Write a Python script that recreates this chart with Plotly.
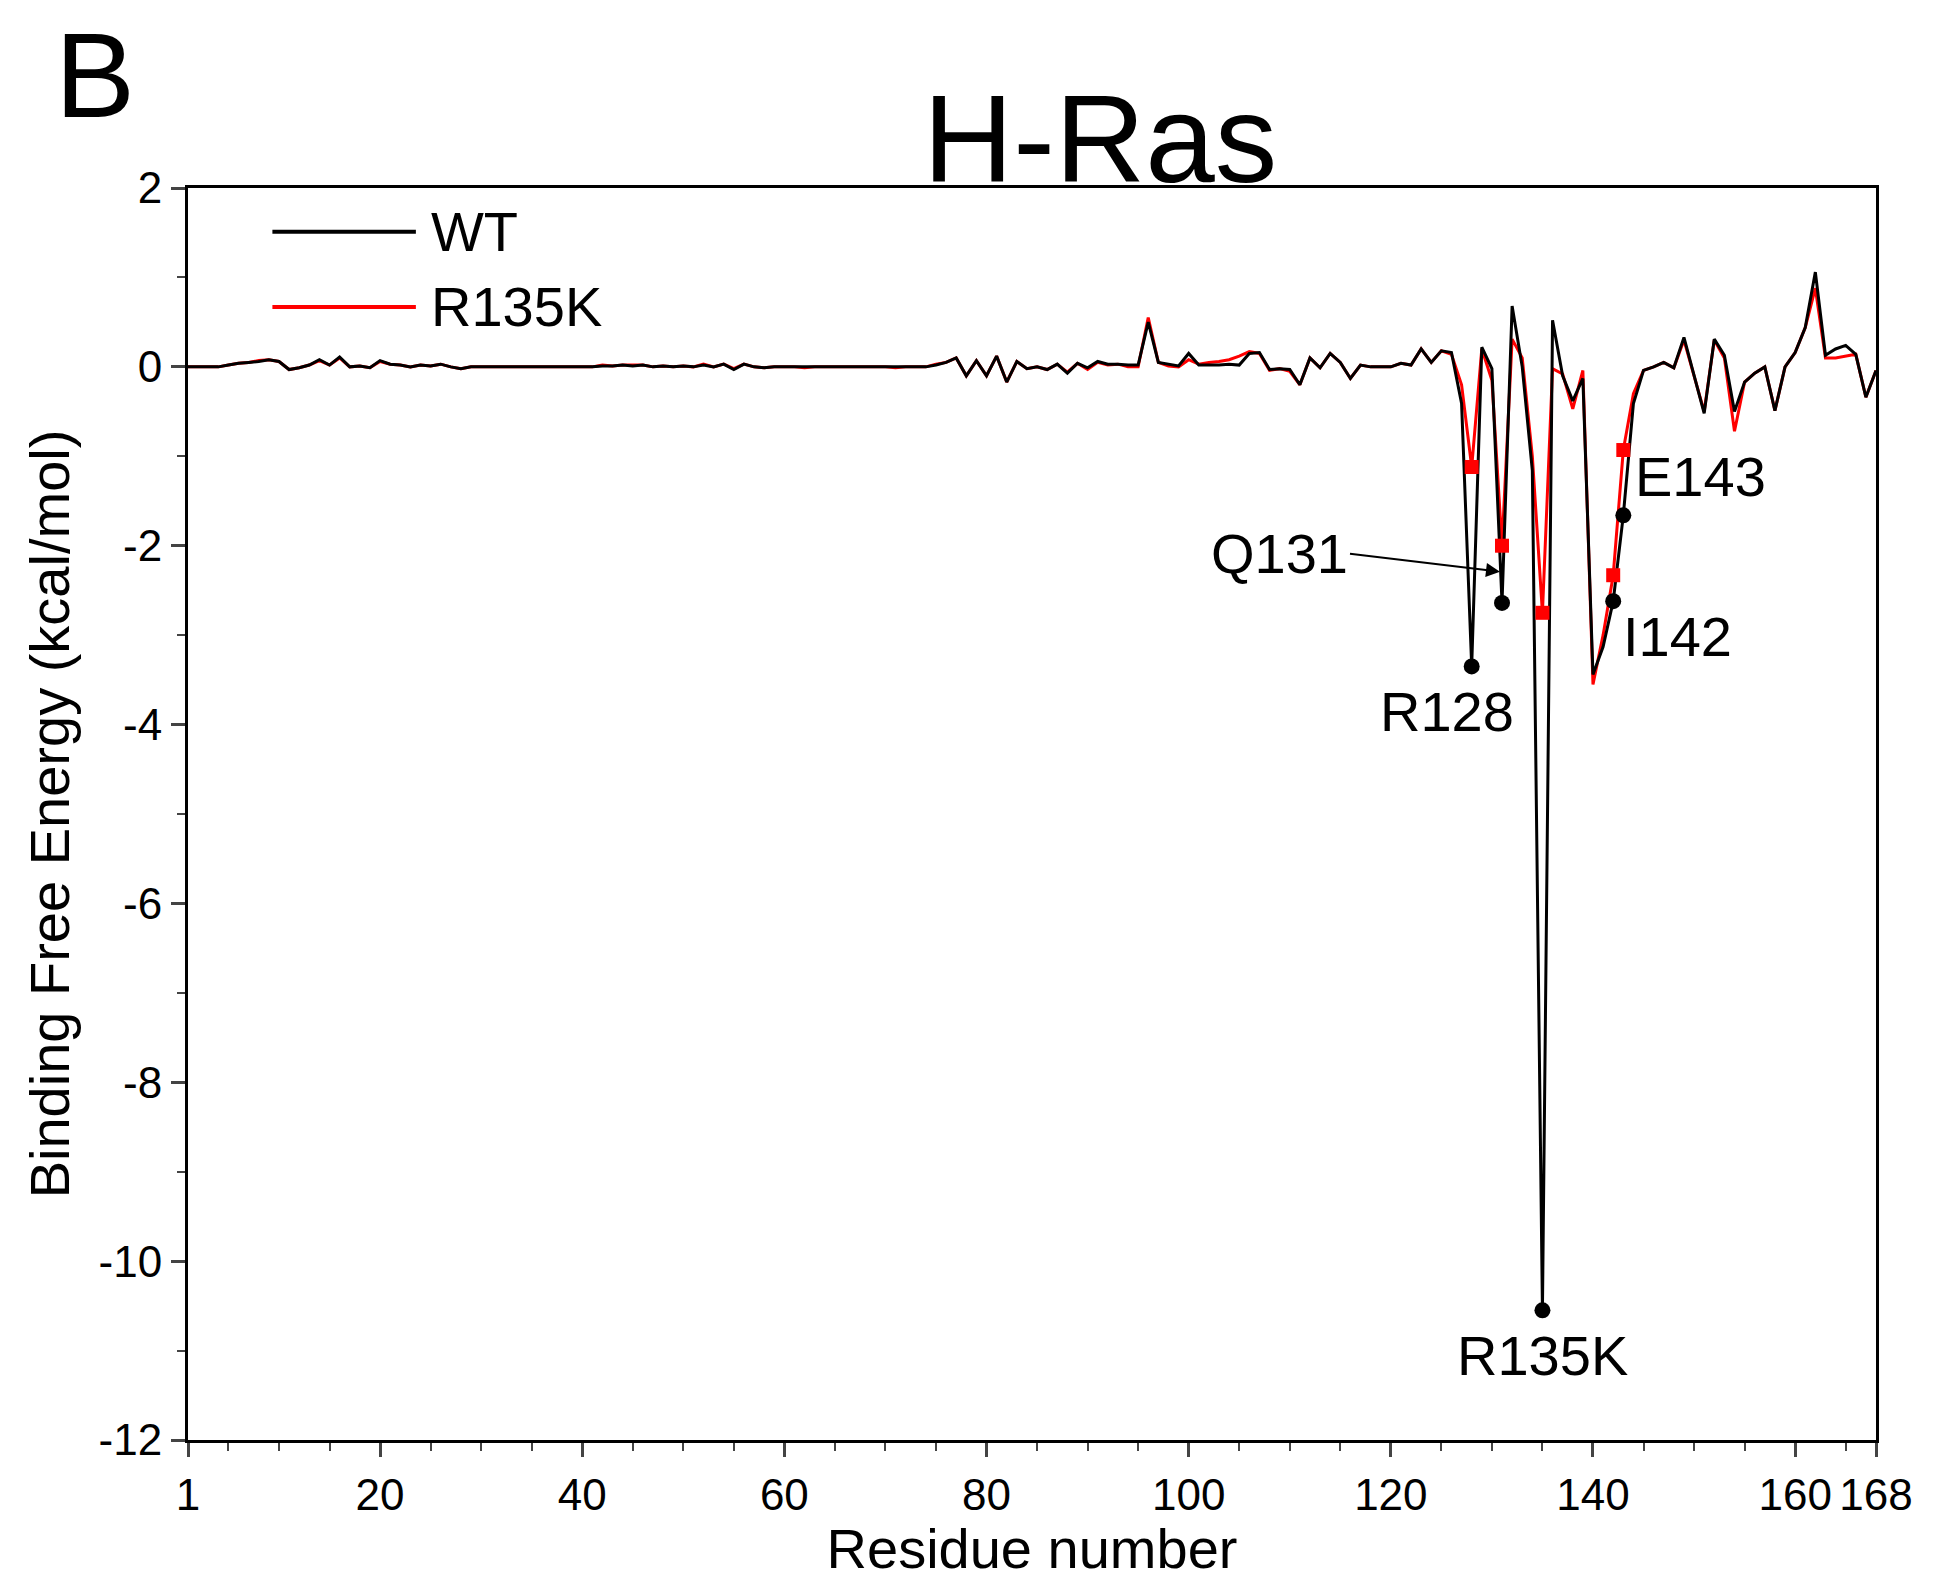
import plotly.graph_objects as go

residues = list(range(1, 169))

wt = [
    0, 0, 0, 0, 0.02, 0.04, 0.05, 0.06, 0.08, 0.06, -0.03, -0.01, 0.02, 0.08, 0.02, 0.11, 0, 0.01, -0.01, 0.07,
    0.03, 0.02, 0, 0.02, 0.01, 0.03, 0, -0.02, 0, 0, 0, 0, 0, 0, 0, 0, 0, 0, 0, 0,
    0, 0.01, 0.01, 0.02, 0.01, 0.02, 0, 0.01, 0, 0.01, 0, 0.02, 0, 0.03, -0.03, 0.03, 0, -0.01, 0, 0,
    0, 0, 0, 0, 0, 0, 0, 0, 0, 0, 0, 0, 0, 0, 0.02, 0.05, 0.1, -0.1, 0.07, -0.1,
    0.12, -0.17, 0.06, -0.02, 0, -0.03, 0.03, -0.07, 0.04, -0.01, 0.06, 0.03, 0.03, 0.02, 0.02, 0.5, 0.05, 0.03, 0.01, 0.15,
    0.02, 0.02, 0.02, 0.03, 0.02, 0.15, 0.16, -0.03, -0.02, -0.03, -0.2, 0.1, -0.01, 0.15, 0.05, -0.13, 0.02, 0, 0, 0,
    0.04, 0.02, 0.2, 0.05, 0.18, 0.16, -0.41, -3.35, 0.22, -0.02, -2.64, 0.68, 0, -1.16, -10.55, 0.52, -0.1, -0.38, -0.13, -3.44,
    -3.13, -2.62, -1.66, -0.41, -0.04, 0, 0.05, -0.01, 0.33, -0.1, -0.52, 0.31, 0.13, -0.5, -0.17, -0.07, 0, -0.49, 0, 0.16,
    0.44, 1.06, 0.13, 0.2, 0.24, 0.14, -0.34, -0.04,
]

r135k = [
    0, 0, 0, 0, 0.02, 0.04, 0.05, 0.07, 0.08, 0.06, -0.03, -0.01, 0.02, 0.07, 0.02, 0.1, 0, 0.01, -0.01, 0.06,
    0.03, 0.02, 0, 0.02, 0.01, 0.03, 0, -0.02, 0, 0, 0, 0, 0, 0, 0, 0, 0, 0, 0, 0,
    0, 0.02, 0.01, 0.02, 0.02, 0.02, 0, 0.01, 0, 0.01, 0, 0.03, 0, 0.03, -0.02, 0.03, 0, -0.01, 0, 0,
    0, -0.01, 0, 0, 0, 0, 0, 0, 0, 0, -0.01, 0, 0, 0, 0.03, 0.05, 0.1, -0.1, 0.07, -0.1,
    0.12, -0.17, 0.06, -0.02, 0, -0.03, 0.03, -0.06, 0.04, -0.03, 0.05, 0.02, 0.03, 0.0, 0.0, 0.55, 0.05, 0.01, 0.0, 0.08,
    0.03, 0.05, 0.06, 0.08, 0.12, 0.17, 0.15, -0.04, -0.02, -0.05, -0.2, 0.1, -0.01, 0.15, 0.05, -0.13, 0.02, 0, 0, 0,
    0.04, 0.02, 0.2, 0.05, 0.18, 0.14, -0.2, -1.12, 0.2, -0.15, -2.0, 0.31, 0.1, -1.0, -2.75, -0.02, -0.08, -0.47, -0.04, -3.55,
    -3.0, -2.33, -0.93, -0.3, -0.04, 0, 0.05, -0.01, 0.3, -0.1, -0.5, 0.3, 0.1, -0.72, -0.17, -0.07, 0, -0.49, 0, 0.16,
    0.44, 0.88, 0.1, 0.1, 0.12, 0.14, -0.34, -0.04,
]

hot_spots = [128, 131, 135, 142, 143]
hot_labels = ["R128", "Q131", "R135K", "I142", "E143"]

x_ticks = [1, 20, 40, 60, 80, 100, 120, 140, 160, 168]
y_ticks = [2, 0, -2, -4, -6, -8, -10, -12]

FONT = "Liberation Sans, Arial, sans-serif"

fig = go.Figure()
fig.add_trace(go.Scatter(x=residues, y=r135k, mode="lines", name="R135K",
                         line=dict(color="#ff0000", width=3)))
fig.add_trace(go.Scatter(x=residues, y=wt, mode="lines", name="WT",
                         line=dict(color="black", width=3)))

# highlighted residues
idx = [r - 1 for r in hot_spots]
fig.add_trace(go.Scatter(x=hot_spots, y=[r135k[i] for i in idx], mode="markers",
                         marker=dict(symbol="square", size=14, color="#ff0000")))
fig.add_trace(go.Scatter(x=hot_spots, y=[wt[i] for i in idx], mode="markers",
                         marker=dict(symbol="circle", size=16, color="black")))

label_pos = {
    "R128": dict(xanchor="center", yanchor="top", xshift=-25, yshift=-12),
    "R135K": dict(xanchor="center", yanchor="top", xshift=0, yshift=-12),
    "I142": dict(xanchor="left", yanchor="top", xshift=8, yshift=-2),
    "E143": dict(xanchor="left", yanchor="bottom", xshift=10, yshift=5),
}
for r, lab in zip(hot_spots, hot_labels):
    if lab == "Q131":
        fig.add_annotation(x=r - 0.2, y=wt[r - 1] + 0.35, ax=-150, ay=-18, text=lab,
                           showarrow=True, arrowhead=2, arrowsize=1.4, arrowwidth=2,
                           arrowcolor="black", font=dict(size=56, color="black", family=FONT),
                           xanchor="right")
    else:
        fig.add_annotation(x=r, y=wt[r - 1], text=lab, showarrow=False,
                           font=dict(size=56, color="black", family=FONT), **label_pos[lab])

# hand-drawn legend with long line samples, like the original
for name, color, yp in [("WT", "black", 0.965), ("R135K", "#ff0000", 0.905)]:
    fig.add_shape(type="line", xref="paper", yref="paper", x0=0.05, x1=0.135, y0=yp, y1=yp,
                  line=dict(color=color, width=4))
    fig.add_annotation(text=name, xref="paper", yref="paper", x=0.143, y=yp, showarrow=False,
                       xanchor="left", yanchor="middle", font=dict(size=56, color="black", family=FONT))

fig.add_annotation(text="B", xref="paper", yref="paper", x=-0.08, y=1.145,
                   showarrow=False, font=dict(size=120, color="black", family=FONT),
                   xanchor="left", yanchor="top")
fig.add_annotation(text="H-Ras", xref="paper", yref="paper", x=0.54, y=1.0, yshift=-22,
                   showarrow=False, font=dict(size=125, color="black", family=FONT),
                   xanchor="center", yanchor="bottom")

fig.update_layout(
    width=1936, height=1572,
    paper_bgcolor="white", plot_bgcolor="white",
    margin=dict(l=180, r=68, t=180, b=140),
    font=dict(family=FONT, color="black"),
    showlegend=False,
)
fig.update_xaxes(range=[1, 168], tickvals=x_ticks, ticks="outside", ticklen=14, tickwidth=3,
                 minor=dict(dtick=5, tick0=0, ticks="outside", ticklen=8, tickwidth=2),
                 showline=True, linewidth=3, linecolor="black", mirror=True, showgrid=False,
                 zeroline=False, tickfont=dict(size=44),
                 title=dict(text="Residue number", font=dict(size=56), standoff=0))
fig.update_yaxes(range=[-12, 2], tickvals=y_ticks, ticktext=[str(v) for v in y_ticks],
                 ticks="outside", ticklen=14, tickwidth=3,
                 minor=dict(dtick=1, ticks="outside", ticklen=8, tickwidth=2),
                 showline=True, linewidth=3, linecolor="black", mirror=True, showgrid=False,
                 zeroline=False, tickfont=dict(size=44),
                 title=dict(text="Binding Free Energy (kcal/mol)", font=dict(size=56), standoff=12))

fig.write_html("out.html")
